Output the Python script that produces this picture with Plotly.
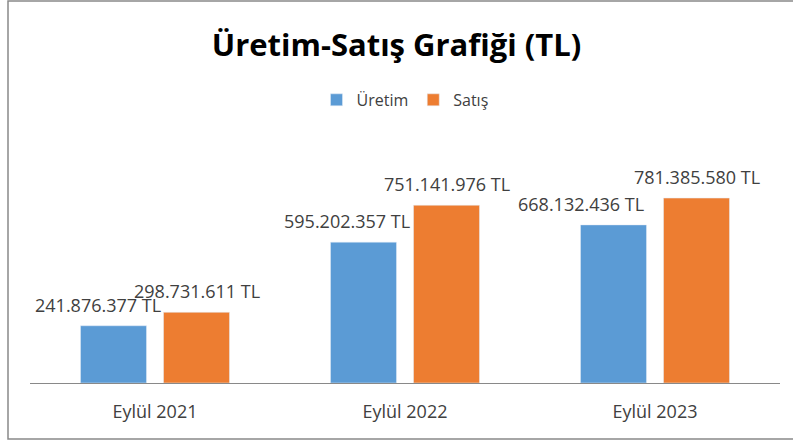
import plotly.graph_objects as go

categories = ["Eylül 2021", "Eylül 2022", "Eylül 2023"]
uretim = [241876377, 595202357, 668132436]
satis = [298731611, 751141976, 781385580]
series_names = ["Üretim", "Satış"]
title_text = "Üretim-Satış Grafiği (TL)"

BLUE = "#5B9BD5"
ORANGE = "#ED7D31"
TEXT = "#404040"
FONT = "Open Sans"

def fmt(v):
    return f"{v:,}".replace(",", ".") + " TL"

fig = go.Figure()
fig.add_trace(go.Bar(name=series_names[0], x=categories, y=uretim, marker_color=BLUE,
                     hoverinfo="x+y"))
fig.add_trace(go.Bar(name=series_names[1], x=categories, y=satis, marker_color=ORANGE,
                     hoverinfo="x+y"))

# data labels (blue ones nudged left as in the original)
blue_shift = [-16, -17, -33]
annotations = []
for i, c in enumerate(categories):
    annotations.append(dict(x=c, y=uretim[i], xref="x", yref="y", text=fmt(uretim[i]),
                            showarrow=False, yanchor="middle", yshift=21,
                            xshift=-41.5 + blue_shift[i],
                            font=dict(family=FONT, size=18, color=TEXT)))
    annotations.append(dict(x=c, y=satis[i], xref="x", yref="y", text=fmt(satis[i]),
                            showarrow=False, yanchor="middle", yshift=21,
                            xshift=41.5,
                            font=dict(family=FONT, size=18, color=TEXT)))

# chart frame (open on the right, as in the cropped original)
x0 = (8 - 30) / 750
x1 = 1.1
y0 = (383 - 439) / 213
y1 = (383 - 1) / 213
frame_path = f"M {x1},{y1} L {x0},{y1} L {x0},{y0} L {x1},{y0}"

fig.update_layout(
    width=793, height=441,
    margin=dict(l=30, r=13, t=170, b=58),
    paper_bgcolor="white", plot_bgcolor="white",
    barmode="group", bargap=0.336, bargroupgap=0.205,
    title=dict(text=f"<b>{title_text}</b>", x=0.5, xanchor="center",
               y=1 - 45 / 441, yanchor="middle",
               font=dict(family=FONT, size=31, color="black")),
    legend=dict(orientation="h", x=0.5, xanchor="center", y=1.329, yanchor="middle",
                font=dict(family=FONT, size=16, color=TEXT),
                itemwidth=30, traceorder="normal"),
    xaxis=dict(showline=True, linecolor="#898989", linewidth=1, ticks="",
               showgrid=False, ticklabelstandoff=12,
               tickfont=dict(family=FONT, size=18, color=TEXT)),
    yaxis=dict(range=[0, 900000000], visible=False, showgrid=False, zeroline=False),
    annotations=annotations,
    shapes=[dict(type="path", xref="paper", yref="paper", path=frame_path,
                 line=dict(color="#898989", width=1.5), layer="below")],
)

fig.write_html("out.html", config={"displayModeBar": False},
               post_script="document.body.style.margin='0';document.body.style.overflow='hidden';")
